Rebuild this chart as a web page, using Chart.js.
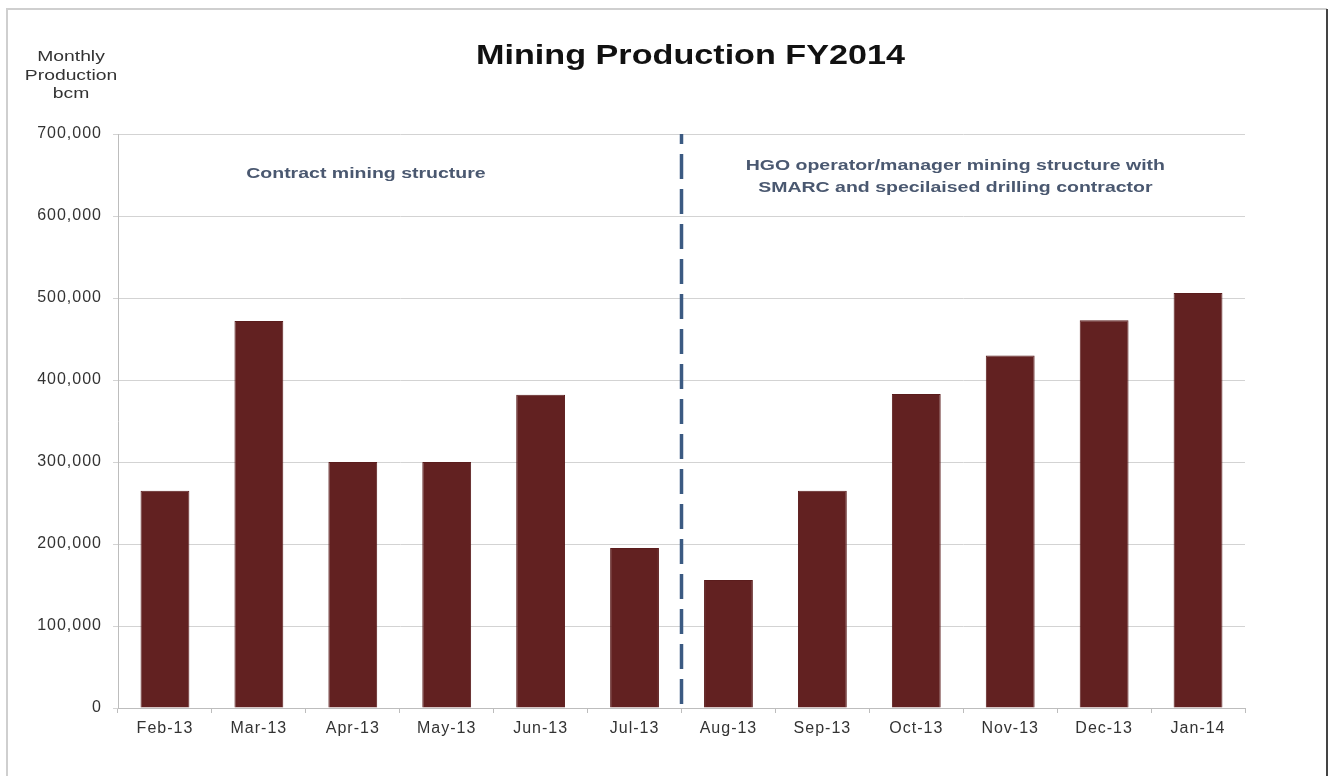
<!DOCTYPE html>
<html>
<head>
<meta charset="utf-8">
<script src="https://cdn.jsdelivr.net/npm/chart.js@4.4.1/dist/chart.umd.min.js"></script>
<style>
  html, body { margin: 0; padding: 0; background: #fff; }
  #wrap { width: 1330px; height: 776px; position: relative; }
</style>
</head>
<body>
<div id="wrap"><canvas id="graphWidget" width="1330" height="776"></canvas></div>
<script>
// values
var months = ["Feb-13", "Mar-13", "Apr-13", "May-13", "Jun-13", "Jul-13",
              "Aug-13", "Sep-13", "Oct-13", "Nov-13", "Dec-13", "Jan-14"];
var production = [265000, 472000, 300000, 300000, 382000, 195000,
                  156000, 265000, 383000, 430000, 473000, 506000];
var yTicks = [0, 100000, 200000, 300000, 400000, 500000, 600000, 700000];

var FONT = "Arial, 'Liberation Sans', sans-serif";

// the source picture is a bit stretched sideways, so text is drawn wider
function wideText(c, text, x, y, sx) {
    c.save();
    c.translate(x, y);
    c.scale(sx, 1);
    c.fillText(text, 0, 0);
    c.restore();
}

// frame, title, axis caption, split line and the two notes
var extras = {
    id: 'extras',
    beforeUpdate: function (chart) {
        chart.ctx.letterSpacing = '1px';
    },
    beforeDraw: function (chart) {
        var c = chart.ctx;
        c.letterSpacing = '1px';
        c.save();
        c.strokeStyle = '#cfcfcf';
        c.lineWidth = 2;
        c.beginPath();
        c.moveTo(7, 800); c.lineTo(7, 9); c.lineTo(1327, 9);
        c.stroke();
        c.strokeStyle = '#444';
        c.beginPath();
        c.moveTo(1327, 9); c.lineTo(1327, 800);
        c.stroke();
        c.restore();
    },
    afterDraw: function (chart) {
        var c = chart.ctx;
        var area = chart.chartArea;
        var w = area.right - area.left;
        var x = chart.scales.x;
        var y = chart.scales.y;
        c.save();
        c.letterSpacing = '0px';
        c.textAlign = 'center';
        c.textBaseline = 'middle';

        c.fillStyle = '#111';
        c.font = "bold 28px " + FONT;
        wideText(c, "Mining Production FY2014", area.left + w * 0.508, 56, 1.22);

        c.fillStyle = '#333';
        c.font = "14px " + FONT;
        wideText(c, "Monthly", 71, 57, 1.38);
        wideText(c, "Production", 71, 76, 1.38);
        wideText(c, "bcm", 71, 94, 1.38);

        var split = (x.getPixelForValue(5) + x.getPixelForValue(6)) / 2;
        c.strokeStyle = '#3b5a82';
        c.lineWidth = 3.5;
        c.setLineDash([25, 10]);
        c.lineDashOffset = 15;
        c.beginPath();
        c.moveTo(split, area.top);
        c.lineTo(split, area.bottom - 4);
        c.stroke();
        c.setLineDash([]);

        c.fillStyle = '#4a5870';
        c.font = "bold 15px " + FONT;
        wideText(c, "Contract mining structure", area.left + w * 0.22, y.getPixelForValue(652000), 1.3);
        var yMid = y.getPixelForValue(648000);
        wideText(c, "HGO operator/manager mining structure with", area.left + w * 0.743, yMid - 11, 1.3);
        wideText(c, "SMARC and specilaised drilling contractor", area.left + w * 0.743, yMid + 11, 1.3);

        c.restore();
    }
};

var ctx = document.getElementById('graphWidget').getContext('2d');
var chart = new Chart(ctx, {
    type: 'bar',
    data: {
        labels: months,
        datasets: [{
            label: "Monthly Production",
            data: production,
            backgroundColor: '#622121',
            borderColor: '#5a1c1c',
            borderWidth: 1,
            categoryPercentage: 1,
            barPercentage: 0.52
        }]
    },
    options: {
        responsive: false,
        animation: false,
        layout: { padding: { top: 134, right: 85, bottom: 0, left: 0 } },
        plugins: {
            legend: { display: false },
            title: { display: false },
            tooltip: { enabled: false }
        },
        scales: {
            x: {
                afterFit: function (s) { s.height = 68; },
                grid: {
                    offset: true,
                    drawOnChartArea: false,
                    color: '#bdbdbd',
                    tickLength: 5
                },
                border: { color: '#bdbdbd' },
                ticks: {
                    color: '#333',
                    font: { family: FONT, size: 16 },
                    padding: 6
                }
            },
            y: {
                min: 0,
                max: 700000,
                afterFit: function (s) { s.width = 118; },
                afterBuildTicks: function (s) {
                    s.ticks = yTicks.map(function (v) { return { value: v }; });
                },
                grid: { color: '#d3d3d3', tickLength: 5 },
                border: { color: '#bdbdbd' },
                ticks: {
                    color: '#333',
                    font: { family: FONT, size: 16 },
                    padding: 11,
                    callback: function (v) { return v.toLocaleString('en-US'); }
                }
            }
        }
    },
    plugins: [extras]
});
</script>
</body>
</html>
